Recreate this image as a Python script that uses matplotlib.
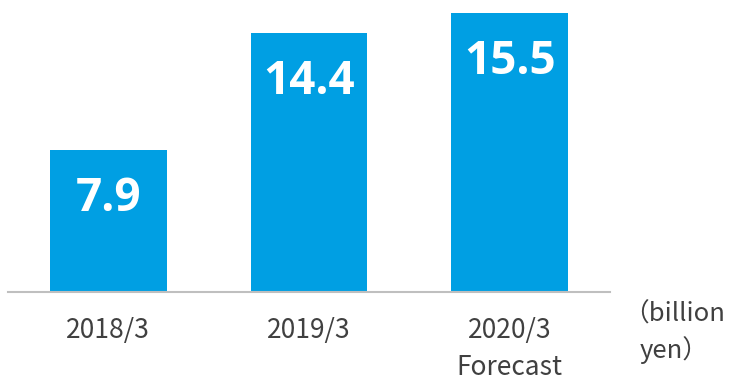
import matplotlib
matplotlib.use("Agg")
import matplotlib.pyplot as plt

plt.rcParams["font.family"] = ["Noto Sans CJK JP", "DejaVu Sans"]

# -----------------------------
# Data
# -----------------------------
periods = ["2018/3", "2019/3", "2020/3\nForecast"]
profit = [7.9, 14.4, 15.5]
value_labels = ["7.9", "14.4", "15.5"]
unit_label = "（billion\nyen）"

bar_color = "#009FE3"
text_color = "#404040"

fig = plt.figure(figsize=(7.31, 3.82), dpi=100)
ax = fig.add_axes([8 / 731, 90 / 382, 602 / 731, 292 / 382])

x = range(len(periods))
bars = ax.bar(x, profit, width=0.58, color=bar_color)

for bar, label in zip(bars, value_labels):
    ax.annotate(
        label,
        xy=(bar.get_x() + bar.get_width() / 2, bar.get_height()),
        xytext=(0, -18),
        textcoords="offset points",
        ha="center",
        va="top",
        color="white",
        fontsize=33,
        fontweight="bold",
        family=["Open Sans", "DejaVu Sans"],
    )

ax.set_xlim(-0.5, 2.5)
ax.set_ylim(0, 16.22)
ax.set_xticks(list(x))
ax.set_xticklabels(periods, fontsize=19, color=text_color, linespacing=1.48)
ax.tick_params(axis="x", length=0, pad=18)
ax.set_yticks([])

for side in ["top", "right", "left"]:
    ax.spines[side].set_visible(False)
ax.spines["bottom"].set_color("#BFBFBF")
ax.spines["bottom"].set_linewidth(1.5)

fig.text(
    674 / 731,
    1 - 302 / 382,
    unit_label,
    ha="center",
    va="top",
    fontsize=18.5,
    color=text_color,
    linespacing=1.35,
)

plt.savefig("out.png", dpi=100)
plt.close()
